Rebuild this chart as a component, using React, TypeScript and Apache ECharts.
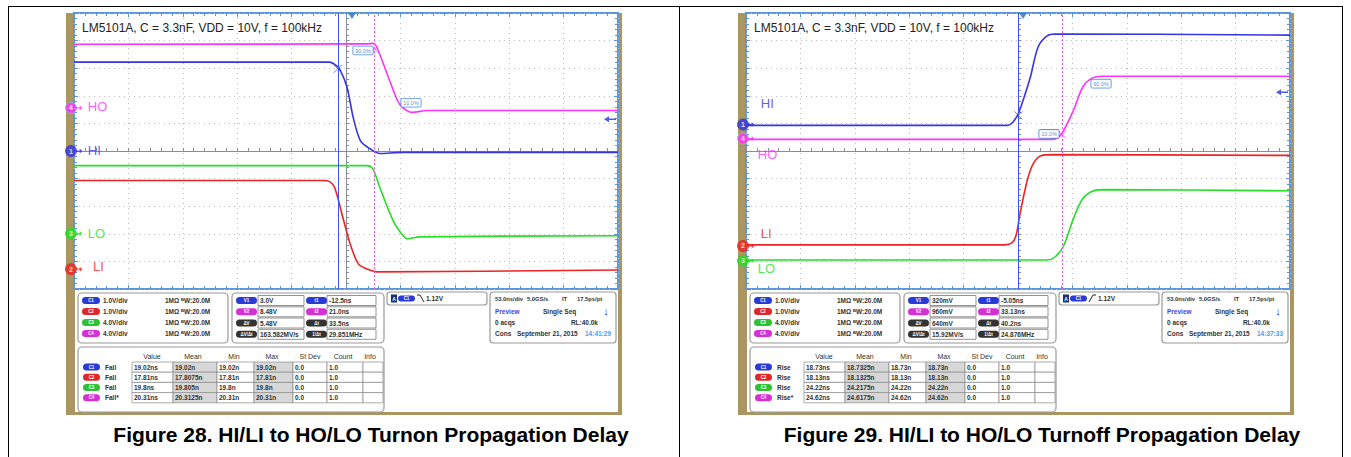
import { useEffect, useRef } from "react";
import * as echarts from "echarts";

const FONT = "'Liberation Sans', Arial, Helvetica, sans-serif";

// ---------- scope screen scale (10 x 10 divisions) ----------
const NS_PER_DIV = 53;
const T_MIN = -5 * NS_PER_DIV;
const T_MAX = 5 * NS_PER_DIV;
const DIV_MIN = -5;
const DIV_MAX = 5;

// trace order: HO, HI, LO, LI
const TRACE_NAMES = ["HO", "HI", "LO", "LI"];
const TRACE_CH = ["4", "1", "3", "2"];
const TRACE_COLORS = ["#ff33ff", "#3535e2", "#25df25", "#ef2323"];

// ---------- Figure 28 (turn-on): time in ns, level in divisions ----------
const F28_HO_T = [-265, 20, 26, 30, 40, 50, 55, 64, 80, 265];
const F28_HO_V = [3.87, 3.88, 3.9, 3.76, 2.8, 1.84, 1.58, 1.4, 1.47, 1.47];
const F28_HI_T = [-265, -16, -10, -6, 1, 7, 14, 23, 33, 53, 265];
const F28_HI_V = [3.22, 3.22, 3.11, 2.96, 2.31, 1.22, 0.38, 0.09, -0.09, -0.05, -0.05];
const F28_LO_T = [-265, 20, 26, 33, 46, 55, 60, 72, 265];
const F28_LO_V = [-0.53, -0.53, -0.64, -1.33, -2.53, -3.04, -3.18, -3.11, -3.07];
const F28_LI_T = [-265, -23, -16, -11, -3, 4, 12, 20, 30, 265];
const F28_LI_V = [-1.07, -1.07, -1.11, -1.33, -2.42, -3.36, -4.09, -4.27, -4.38, -4.31];
const F28_GROUND = [1.56, 0, -2.99, -4.28];
const F28_LABEL_T = [-252, -252, -252, -247];
const F28_LABEL_V = [1.62, 0.02, -3.0, -4.2];
const F28_CURSORS = [-8, 28];
const F28_CROSS_T = [-8, 28];
const F28_CROSS_V = [2.98, 3.68];
const F28_PCT_TEXT = ["90.0%", "10.0%"];
const F28_PCT_T = [16.6, 63.3];
const F28_PCT_V = [3.64, 1.75];
const F28_TRIGGER_T = 5.8;
const F28_REF_V = 1.15;

// ---------- Figure 29 (turn-off) ----------
const F29_HO_T = [-265, 33, 39, 44, 54, 63, 72, 82, 265];
const F29_HO_V = [0.42, 0.42, 0.49, 0.71, 1.47, 2.31, 2.64, 2.71, 2.71];
const F29_HI_T = [-265, -10, -5, 0, 5, 12, 19.5, 28, 36, 265];
const F29_HI_V = [0.93, 0.93, 1.04, 1.33, 1.84, 2.67, 3.76, 4.16, 4.24, 4.2];
const F29_LO_T = [-265, 29, 36, 44, 54, 63, 73, 85, 265];
const F29_LO_V = [-3.95, -3.95, -3.84, -3.47, -2.45, -1.73, -1.45, -1.4, -1.44];
const F29_LI_T = [-265, -13, -6, -2, 2, 9, 15, 23, 33, 265];
const F29_LI_V = [-3.4, -3.4, -3.33, -3.07, -2.27, -1.07, -0.45, -0.16, -0.13, -0.16];
const F29_GROUND = [0.45, 0.96, -3.98, -3.44];
const F29_LABEL_T = [-254, -251, -254, -251];
const F29_LABEL_V = [-0.13, 1.73, -4.24, -3.0];
const F29_CURSORS = [0.3, 42.9];
const F29_CROSS_T = [0.3, 42.9];
const F29_CROSS_V = [1.29, 0.6];
const F29_PCT_TEXT = ["10.0%", "90.0%"];
const F29_PCT_T = [30.2, 80.9];
const F29_PCT_V = [0.62, 2.44];
const F29_TRIGGER_T = 4.9;
const F29_REF_V = 2.13;

// ---------- readouts ----------
const TITLE = "LM5101A, C = 3.3nF, VDD = 10V, f = 100kHz";
const CH_IDS = ["C1", "C2", "C3", "C4"];
const CH_PILL = ["#2a3ad6", "#e02727", "#2fc42f", "#d52fd5"];
const CH_SCALE = ["1.0V/div", "1.0V/div", "4.0V/div", "4.0V/div"];
const CH_INPUT = "1MΩ ᴮW:20.0M";
const CUR_V_IDS = ["V1", "V2", "ΔV", "ΔV/Δt"];
const CUR_T_IDS = ["t1", "t2", "Δt", "1/Δt"];
const CUR_PILL = ["#2a3ad6", "#d52fd5", "#333333", "#333333"];
const F28_CUR_V = ["3.0V", "8.48V", "5.48V", "163.582MV/s"];
const F28_CUR_T = ["-12.5ns", "21.0ns", "33.5ns", "29.851MHz"];
const F29_CUR_V = ["320mV", "960mV", "640mV", "15.92MV/s"];
const F29_CUR_T = ["-5.05ns", "33.13ns", "40.2ns", "24.876MHz"];
const MEAS_HEADERS = ["Value", "Mean", "Min", "Max", "St Dev", "Count", "Info"];
const F28_MEAS_TYPE = ["Fall", "Fall", "Fall", "Fall*"];
const F28_MEAS = [
  ["19.02ns", "19.02n", "19.02n", "19.02n", "0.0", "1.0", ""],
  ["17.81ns", "17.8075n", "17.81n", "17.81n", "0.0", "1.0", ""],
  ["19.8ns", "19.805n", "19.8n", "19.8n", "0.0", "1.0", ""],
  ["20.31ns", "20.3125n", "20.31n", "20.31n", "0.0", "1.0", ""],
];
const F29_MEAS_TYPE = ["Rise", "Rise", "Rise", "Rise*"];
const F29_MEAS = [
  ["18.73ns", "18.7325n", "18.73n", "18.73n", "0.0", "1.0", ""],
  ["18.13ns", "18.1325n", "18.13n", "18.13n", "0.0", "1.0", ""],
  ["24.22ns", "24.2175n", "24.22n", "24.22n", "0.0", "1.0", ""],
  ["24.62ns", "24.6175n", "24.62n", "24.62n", "0.0", "1.0", ""],
];
const TRIG_LEVEL = "1.12V";
const TB_LINE1 = ["53.0ns/div", "5.0GS/s", "IT", "17.5ps/pt"];
const TB_LINE2 = ["Preview", "Single Seq"];
const TB_LINE3 = ["0 acqs", "RL:40.0k"];
const TB_DATE = ["Cons", "September 21, 2015"];
const F28_CLOCK = "14:41:29";
const F29_CLOCK = "14:37:33";
const F28_CAPTION = "Figure 28. HI/LI to HO/LO Turnon Propagation Delay";
const F29_CAPTION = "Figure 29. HI/LI to HO/LO Turnoff Propagation Delay";

// ---------- layout ----------
const FIG_OFFSET = [0, 672];
const GRID_LEFT = 74;
const GRID_TOP = 13;
const GRID_W = 544;
const GRID_H = 276;
const BORDER_BLUE = "#5b97d8";
const AXIS_GRAY = "#8a8a98";

const zip = (t: number[], v: number[]) => t.map((x, i) => [x, v[i]]);

function axesFor(g: number) {
  const xb = { gridIndex: g, type: "value", min: T_MIN, max: T_MAX, interval: NS_PER_DIV, axisLabel: { show: false } };
  const yb = { gridIndex: g, type: "value", min: DIV_MIN, max: DIV_MAX, interval: 1, axisLabel: { show: false } };
  const centre = {
    axisLine: { show: true, onZero: true, lineStyle: { color: AXIS_GRAY, width: 1 } },
    axisTick: { show: true, inside: true, length: 3, lineStyle: { color: AXIS_GRAY } },
    minorTick: { show: true, splitNumber: 5, length: 3, lineStyle: { color: AXIS_GRAY } },
    splitLine: { show: true, lineStyle: { color: "#bdbdbd", type: [1, 4], width: 1 } },
  };
  const edge = {
    axisLine: { show: false, onZero: false },
    axisTick: { show: true, inside: true, length: 4, lineStyle: { color: BORDER_BLUE } },
    minorTick: { show: true, splitNumber: 5, length: 3, lineStyle: { color: BORDER_BLUE } },
    splitLine: { show: false },
  };
  return {
    x: [
      { ...xb, ...centre },
      { ...xb, ...edge, position: "top" },
      { ...xb, ...edge, position: "bottom" },
    ],
    y: [
      { ...yb, ...centre },
      { ...yb, ...edge, position: "left" },
      { ...yb, ...edge, position: "right" },
    ],
  };
}

type FigData = {
  traces: number[][][];
  ground: number[];
  labelT: number[];
  labelV: number[];
  cursors: number[];
  crossT: number[];
  crossV: number[];
  pctText: string[];
  pctT: number[];
  pctV: number[];
  trigT: number;
  refV: number;
};

function seriesFor(g: number, f: FigData) {
  const xi = g * 3;
  const yi = g * 3;
  const base = { xAxisIndex: xi, yAxisIndex: yi, silent: true };
  const out: any[] = [];
  f.traces.forEach((d, i) => {
    const s: any = {
      ...base,
      type: "line",
      data: d,
      symbol: "none",
      smooth: 0.3,
      lineStyle: { color: TRACE_COLORS[i], width: 1.6 },
      z: 3,
    };
    if (i === 0) {
      s.markLine = {
        silent: true,
        symbol: ["none", "none"],
        label: { show: false },
        data: [
          { xAxis: f.cursors[0], lineStyle: { color: "#3a55e6", type: "solid", width: 1 } },
          { xAxis: f.cursors[1], lineStyle: { color: "#ff44ff", type: [2, 2], width: 1 } },
        ],
      };
    }
    out.push(s);
  });
  // channel ground markers
  out.push({
    ...base,
    type: "scatter",
    clip: false,
    z: 10,
    symbol: "circle",
    symbolSize: 11,
    symbolOffset: [-3, 0],
    data: f.ground.map((v, i) => ({
      value: [T_MIN, v],
      itemStyle: { color: TRACE_COLORS[i], borderColor: i === 0 ? "#8fb6ee" : TRACE_COLORS[i], borderWidth: 1 },
      label: { formatter: TRACE_CH[i] },
    })),
    label: { show: true, position: "inside", color: "#fff", fontSize: 7, fontWeight: "bold", fontFamily: FONT },
  });
  out.push({
    ...base,
    type: "scatter",
    clip: false,
    z: 10,
    symbol: "path://M0,3L6,3L6,0L10,4L6,8L6,5L0,5Z",
    symbolSize: [7, 5],
    symbolOffset: [5, 0],
    data: f.ground.map((v, i) => ({ value: [T_MIN, v], itemStyle: { color: TRACE_COLORS[i] } })),
  });
  // trace names
  out.push({
    ...base,
    type: "scatter",
    z: 11,
    symbol: "circle",
    symbolSize: 1,
    itemStyle: { color: "rgba(0,0,0,0)" },
    data: f.labelT.map((t, i) => ({
      value: [t, f.labelV[i]],
      label: { formatter: TRACE_NAMES[i], color: TRACE_COLORS[i] },
    })),
    label: { show: true, position: "right", distance: 0, fontSize: 13, fontFamily: FONT },
  });
  // cursor crosses
  out.push({
    ...base,
    type: "scatter",
    z: 9,
    symbol: "path://M0,0L10,10M10,0L0,10",
    symbolSize: 8,
    data: f.crossT.map((t, i) => ({
      value: [t, f.crossV[i]],
      itemStyle: { color: "rgba(0,0,0,0)", borderColor: i === 0 ? "#3a55e6" : "#ff44ff", borderWidth: 1 },
    })),
  });
  // percent tags
  out.push({
    ...base,
    type: "scatter",
    z: 11,
    symbol: "circle",
    symbolSize: 1,
    itemStyle: { color: "rgba(0,0,0,0)" },
    data: f.pctT.map((t, i) => ({ value: [t, f.pctV[i]], label: { formatter: f.pctText[i] } })),
    label: {
      show: true,
      position: "inside",
      fontSize: 5.5,
      fontFamily: FONT,
      color: "#2a6fd8",
      backgroundColor: "#ffffff",
      borderColor: "#3b80dd",
      borderWidth: 0.8,
      borderRadius: 1,
      padding: [1, 2],
    },
  });
  // trigger position marker
  out.push({
    ...base,
    type: "scatter",
    clip: false,
    z: 11,
    symbol: "triangle",
    symbolRotate: 180,
    symbolSize: [8, 6],
    symbolOffset: [0, 3],
    itemStyle: { color: "#1f6fd1" },
    data: [[f.trigT, DIV_MAX]],
  });
  // reference arrow on the right edge
  out.push({
    ...base,
    type: "scatter",
    clip: false,
    z: 11,
    symbol: "path://M0,4L5,0L5,3L12,3L12,5L5,5L5,8Z",
    symbolSize: [12, 6],
    symbolOffset: [-8, 0],
    itemStyle: { color: "#2233dd" },
    data: [[T_MAX, f.refV]],
  });
  return out;
}

function graphicsFor(
  ox: number,
  curV: string[],
  curT: string[],
  meas: string[][],
  measType: string[],
  clock: string,
  rising: boolean,
  caption: string,
  captionX: number
) {
  const E: any[] = [];
  const rect = (x: number, y: number, w: number, h: number, style: any, r = 0, z = 5) =>
    E.push({ type: "rect", z, shape: { x: x + ox, y, width: w, height: h, r }, style });
  const text = (x: number, y: number, s: string, extra: any = {}, z = 12) =>
    E.push({
      type: "text",
      z,
      x: x + ox,
      y,
      style: {
        text: s,
        fontFamily: FONT,
        fontSize: 6.5,
        fontWeight: "bold",
        fill: "#333",
        textVerticalAlign: "middle",
        ...extra,
      },
    });
  const pill = (x: number, y: number, w: number, color: string, label: string, h = 7) => {
    rect(x, y - h / 2, w, h, { fill: color }, h / 2, 10);
    text(x + w / 2, y, label, { fill: "#fff", fontSize: 4.5, textAlign: "center" }, 12);
  };
  const box = { fill: "#fff", stroke: "#9a9a9a", lineWidth: 1.2 };

  // bezel and readout background
  rect(66, 13, 556, 402, { fill: "#a99660" }, 0, -2);
  rect(75, 289, 543, 123, { fill: "#ffffff" }, 0, -1);

  // screen title
  text(82, 28, TITLE, { fontSize: 12, fontWeight: "normal", fill: "#222" }, 12);

  // channel settings
  rect(78, 293, 150, 50, box, 4, 6);
  [300.5, 311.5, 322.5, 333.5].forEach((y, i) => {
    pill(82, y, 18, CH_PILL[i], CH_IDS[i]);
    text(103, y, CH_SCALE[i]);
    text(165, y, CH_INPUT);
  });

  // cursor readouts
  rect(232, 293, 152, 50, box, 4, 6);
  [300.5, 311.8, 323, 334.3].forEach((y, i) => {
    pill(236, y, 21, CUR_PILL[i], CUR_V_IDS[i]);
    rect(258, y - 5, 46, 10, { fill: "#fff", stroke: "#777", lineWidth: 0.8 }, 0, 8);
    text(260, y, curV[i]);
    pill(306, y, 21, CUR_PILL[i], CUR_T_IDS[i]);
    rect(327, y - 5, 49, 10, { fill: "#fff", stroke: "#777", lineWidth: 0.8 }, 0, 8);
    text(329, y, curT[i]);
  });

  // trigger
  rect(387, 292, 100, 13, box, 3, 6);
  rect(391, 294.5, 6, 8, { fill: "#1c2c6c" }, 0, 10);
  text(394, 298.5, "A", { fill: "#fff", fontSize: 5, textAlign: "center" });
  pill(398, 298.5, 17, CH_PILL[0], CH_IDS[0], 6);
  E.push({
    type: "polyline",
    z: 12,
    shape: {
      points: rising
        ? [[417 + ox, 302], [421 + ox, 295], [424 + ox, 295]]
        : [[417 + ox, 295], [420 + ox, 295], [424 + ox, 302]],
    },
    style: { stroke: "#222", lineWidth: 1, fill: "none" },
  });
  text(426, 298.5, TRIG_LEVEL);

  // timebase
  rect(490, 292, 126, 51, box, 3, 6);
  const tb1 = { fontSize: 5.8 };
  text(495, 299, TB_LINE1[0], tb1);
  text(527, 299, TB_LINE1[1], tb1);
  text(562, 299, TB_LINE1[2], tb1);
  text(577, 299, TB_LINE1[3], tb1);
  text(495, 311, TB_LINE2[0], { fill: "#3a48e6" });
  text(543, 311, TB_LINE2[1]);
  text(606, 311, "↓", { fill: "#2233cc", fontSize: 11, textAlign: "center" });
  text(495, 322, TB_LINE3[0]);
  text(598, 322, TB_LINE3[1], { textAlign: "right" });
  text(495, 333, TB_DATE[0]);
  text(517, 333, TB_DATE[1]);
  text(585, 333, clock, { fill: "#4a9cff" });

  // measurement table
  rect(78, 347, 306, 65, box, 4, 6);
  const colX = [132, 173, 217, 254, 293, 327, 363, 383];
  const headerX = [152, 193, 234, 272, 310, 343, 370];
  MEAS_HEADERS.forEach((h, c) => text(headerX[c], 356, h, { textAlign: "center", fontWeight: "normal", fontSize: 7 }));
  const rowY = [362, 372.2, 382.4, 392.6, 402.8];
  meas.forEach((row, r) => {
    const yc = (rowY[r] + rowY[r + 1]) / 2;
    pill(83, yc, 17, CH_PILL[r], CH_IDS[r]);
    text(105, yc, measType[r]);
    row.forEach((cell, c) => {
      rect(colX[c], rowY[r], colX[c + 1] - colX[c], rowY[r + 1] - rowY[r], {
        fill: c === 1 || c === 3 ? "#d7d7d7" : "#ffffff",
        stroke: "#8a8a8a",
        lineWidth: 0.7,
      }, 0, 8);
      if (cell) text(colX[c] + 2, yc, cell);
    });
  });

  // caption
  E.push({
    type: "text",
    z: 12,
    x: captionX,
    y: 434,
    style: {
      text: caption,
      fontFamily: FONT,
      fontSize: 21,
      fontWeight: "bold",
      fill: "#000",
      textAlign: "center",
      textVerticalAlign: "middle",
    },
  });
  return E;
}

function buildOption() {
  const a0 = axesFor(0);
  const a1 = axesFor(1);
  const fig28: FigData = {
    traces: [zip(F28_HO_T, F28_HO_V), zip(F28_HI_T, F28_HI_V), zip(F28_LO_T, F28_LO_V), zip(F28_LI_T, F28_LI_V)],
    ground: F28_GROUND,
    labelT: F28_LABEL_T,
    labelV: F28_LABEL_V,
    cursors: F28_CURSORS,
    crossT: F28_CROSS_T,
    crossV: F28_CROSS_V,
    pctText: F28_PCT_TEXT,
    pctT: F28_PCT_T,
    pctV: F28_PCT_V,
    trigT: F28_TRIGGER_T,
    refV: F28_REF_V,
  };
  const fig29: FigData = {
    traces: [zip(F29_HO_T, F29_HO_V), zip(F29_HI_T, F29_HI_V), zip(F29_LO_T, F29_LO_V), zip(F29_LI_T, F29_LI_V)],
    ground: F29_GROUND,
    labelT: F29_LABEL_T,
    labelV: F29_LABEL_V,
    cursors: F29_CURSORS,
    crossT: F29_CROSS_T,
    crossV: F29_CROSS_V,
    pctText: F29_PCT_TEXT,
    pctT: F29_PCT_T,
    pctV: F29_PCT_V,
    trigT: F29_TRIGGER_T,
    refV: F29_REF_V,
  };
  const frame: any[] = [
    { type: "line", z: 20, shape: { x1: 8, y1: 6.5, x2: 1343, y2: 6.5 }, style: { stroke: "#000", lineWidth: 1 } },
    { type: "line", z: 20, shape: { x1: 8.5, y1: 6, x2: 8.5, y2: 457 }, style: { stroke: "#000", lineWidth: 1 } },
    { type: "line", z: 20, shape: { x1: 679.5, y1: 6, x2: 679.5, y2: 457 }, style: { stroke: "#000", lineWidth: 1 } },
    { type: "line", z: 20, shape: { x1: 1342.5, y1: 6, x2: 1342.5, y2: 457 }, style: { stroke: "#000", lineWidth: 1 } },
  ];
  return {
    animation: false,
    backgroundColor: "#ffffff",
    textStyle: { fontFamily: FONT },
    grid: FIG_OFFSET.map((ox) => ({
      left: GRID_LEFT + ox,
      top: GRID_TOP,
      width: GRID_W,
      height: GRID_H,
      show: true,
      backgroundColor: "#ffffff",
      borderColor: BORDER_BLUE,
      borderWidth: 2,
    })),
    xAxis: [...a0.x, ...a1.x],
    yAxis: [...a0.y, ...a1.y],
    series: [...seriesFor(0, fig28), ...seriesFor(1, fig29)],
    graphic: {
      elements: [
        ...frame,
        ...graphicsFor(0, F28_CUR_V, F28_CUR_T, F28_MEAS, F28_MEAS_TYPE, F28_CLOCK, false, F28_CAPTION, 371),
        ...graphicsFor(672, F29_CUR_V, F29_CUR_T, F29_MEAS, F29_MEAS_TYPE, F29_CLOCK, true, F29_CAPTION, 1042),
      ],
    },
  };
}

export default function App() {
  const ref = useRef<HTMLDivElement>(null);
  useEffect(() => {
    if (!ref.current) return;
    const chart = echarts.init(ref.current, null, { renderer: "svg", width: 1351, height: 457 });
    chart.setOption(buildOption() as any);
    return () => chart.dispose();
  }, []);
  return (
    <div
      ref={ref}
      style={{ position: "fixed", left: 0, top: 0, width: 1351, height: 457, background: "#fff" }}
    />
  );
}
